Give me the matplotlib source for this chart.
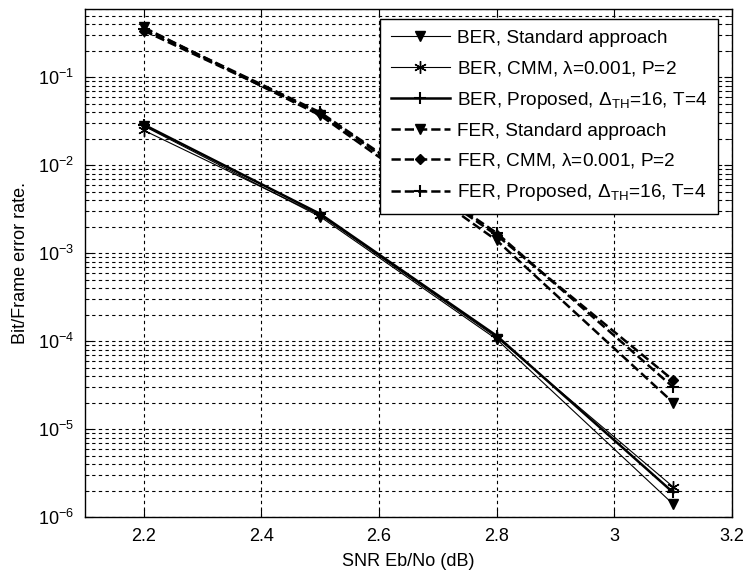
import math
import matplotlib
matplotlib.use('Agg')
import matplotlib.pyplot as plt
from matplotlib.ticker import LogLocator, FixedLocator, FuncFormatter, NullFormatter

plt.rcParams['font.family'] = ['Liberation Sans', 'DejaVu Sans']
plt.rcParams['mathtext.fontset'] = 'custom'
plt.rcParams['mathtext.rm'] = 'Liberation Sans'
plt.rcParams['mathtext.it'] = 'Liberation Sans'
plt.rcParams['mathtext.default'] = 'regular'

# SNR points (dB)
snr = [2.2, 2.5, 2.8, 3.1]

# bit error rate
ber_standard = [0.028, 0.0026, 1.05e-4, 1.4e-6]
ber_cmm = [0.025, 0.0027, 1.1e-4, 2.2e-6]
ber_proposed = [0.029, 0.0028, 1.15e-4, 1.9e-6]

# frame error rate
fer_standard = [0.37, 0.037, 1.4e-3, 2.0e-5]
fer_cmm = [0.34, 0.039, 1.6e-3, 3.6e-5]
fer_proposed = [0.36, 0.040, 1.7e-3, 3.0e-5]

labels = ['BER, Standard approach',
          'BER, CMM, $\\lambda$=0.001, P=2',
          'BER, Proposed, $\\Delta_{TH}$=16, T=4',
          'FER, Standard approach',
          'FER, CMM, $\\lambda$=0.001, P=2',
          'FER, Proposed, $\\Delta_{TH}$=16, T=4']

xticks = [2.2, 2.4, 2.6, 2.8, 3.0, 3.2]
xticklabels = ['2.2', '2.4', '2.6', '2.8', '3', '3.2']

fig = plt.figure(figsize=(7.48, 5.81), dpi=100)
ax = fig.add_axes([85/748, 64/581, 647/748, 508/581])

star = (6, 2, 0)  # asterisk like matlab '*'
ax.semilogy(snr, ber_standard, 'k-', lw=0.8, marker='v', ms=7, label=labels[0])
ax.semilogy(snr, ber_cmm, 'k-', lw=0.8, marker=star, ms=9, mew=1.0, label=labels[1])
ax.semilogy(snr, ber_proposed, 'k-', lw=1.8, marker='+', ms=9, mew=1.5, label=labels[2])
ax.semilogy(snr, fer_standard, 'k--', lw=1.8, marker='v', ms=7, label=labels[3])
ax.semilogy(snr, fer_cmm, 'k--', lw=1.8, marker='D', ms=5, label=labels[4])
ax.semilogy(snr, fer_proposed, 'k--', lw=1.8, marker='+', ms=9, mew=1.5, label=labels[5])

ax.set_xlim(2.1, 3.2)
ax.set_ylim(1e-6, 0.6)
ax.xaxis.set_major_locator(FixedLocator(xticks))
ax.set_xticklabels(xticklabels)
ax.yaxis.set_major_locator(LogLocator(base=10, numticks=10))
ax.yaxis.set_minor_locator(LogLocator(base=10, subs=range(2, 10), numticks=20))
ax.yaxis.set_major_formatter(FuncFormatter(lambda v, p: '$10^{%d}$' % round(math.log10(v))))
ax.yaxis.set_minor_formatter(NullFormatter())

gs = (0, (3, 3))
ax.grid(True, which='major', axis='both', color='k', ls=gs, lw=0.8)
ax.grid(True, which='minor', axis='y', color='k', ls=gs, lw=0.8)

ax.tick_params(which='both', direction='in', top=True, right=True, labelsize=13, colors='k')
ax.tick_params(which='major', length=6, pad=8)
ax.tick_params(which='minor', length=3)
for s in ax.spines.values():
    s.set_linewidth(1.0)

ax.set_xlabel('SNR Eb/No (dB)', fontsize=13, labelpad=6)
ax.set_ylabel('Bit/Frame error rate.', fontsize=13, labelpad=6)

leg = ax.legend(loc='upper right', bbox_to_anchor=(0.978, 0.98), borderaxespad=0,
                fancybox=False, edgecolor='k', framealpha=1, fontsize=13.7,
                handlelength=3.1, labelspacing=0.62, borderpad=0.55, handletextpad=0.4)
leg.get_frame().set_linewidth(1.0)

plt.savefig('out.png', dpi=100)
